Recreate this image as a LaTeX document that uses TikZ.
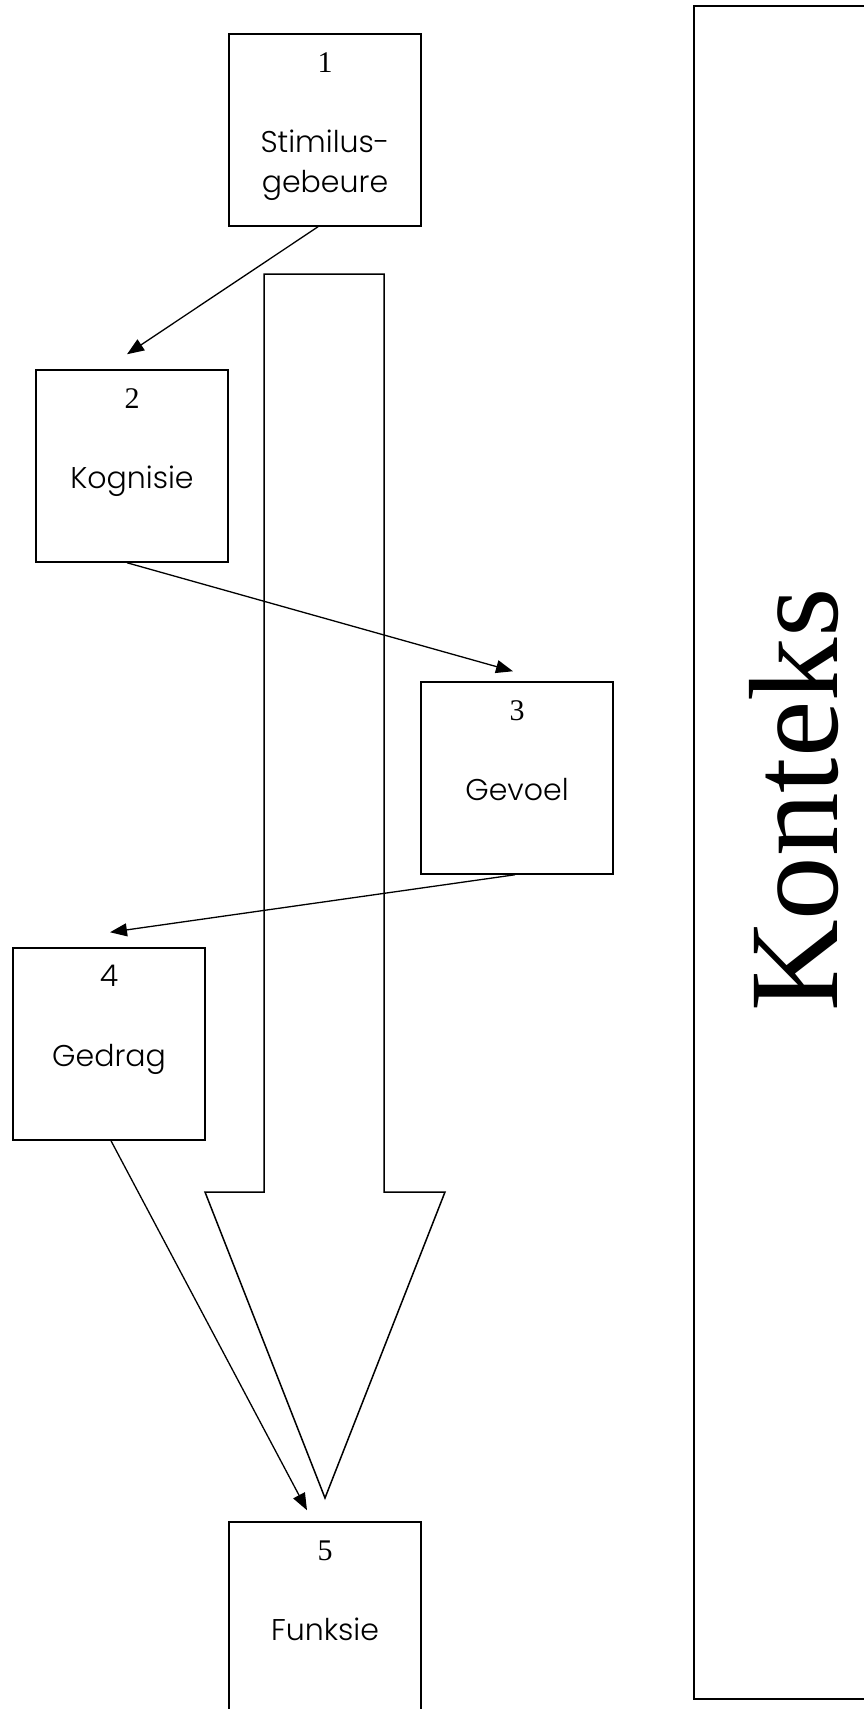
\documentclass[tikz,border=0pt]{standalone}
\usepackage{fontspec}
\setmainfont{Liberation Serif}
\newfontfamily\gothic{Poppins}[UprightFont=* Light]
\usetikzlibrary{arrows.meta}

\begin{document}
\begin{tikzpicture}[x=1pt, y=-1pt,
    caja/.style={draw, line width=1.5pt, minimum width=192pt, minimum height=192pt, inner sep=0pt},
    numero/.style={anchor=base, inner sep=0pt, font=\fontsize{30}{40}\selectfont},
    etiqueta/.style={anchor=base, inner sep=0pt, align=center, font=\gothic\fontsize{30}{40}\selectfont},
    flecha/.style={line width=1.3pt, -{Triangle[length=17pt, width=13pt]}}]
    \useasboundingbox (0,0) rectangle (863,1709);

    % Marco del contexto
    \draw[line width=2pt] (694,6) rectangle (900,1699);
    \node[rotate=90, anchor=base west, inner sep=0pt, font=\fontsize{127}{130}\selectfont] (konteks) at (837,1012) {Konteks};

    % Flecha grande hacia abajo
    \draw[line width=1.5pt] (264,274) -- (384,274) -- (384,1192) -- (445,1192) -- (325,1498)
        -- (205,1192) -- (264,1192) -- cycle;

    % Cajas
    \node[caja] (b1) at (325,130) {};
    \node[caja] (b2) at (132,466) {};
    \node[caja] (b3) at (517,778) {};
    \node[caja] (b4) at (109,1044) {};
    \node[caja] (b5) at (325,1618) {};

    % Numeros y textos
    \node[numero] (n1) at ([yshift=-39pt]b1.north) {1};
    \node[etiqueta] (t1) at ([yshift=-159pt]b1.north) {Stimilus-\\gebeure};
    \node[numero] (n2) at ([yshift=-39pt]b2.north) {2};
    \node[etiqueta] (t2) at ([yshift=-119pt]b2.north) {Kognisie};
    \node[numero] (n3) at ([yshift=-39pt]b3.north) {3};
    \node[etiqueta] (t3) at ([yshift=-119pt]b3.north) {Gevoel};
    \node[etiqueta] (n4) at ([yshift=-39pt]b4.north) {4};
    \node[etiqueta] (t4) at ([yshift=-119pt]b4.north) {Gedrag};
    \node[numero] (n5) at ([yshift=-39pt]b5.north) {5};
    \node[etiqueta] (t5) at ([yshift=-119pt]b5.north) {Funksie};

    % Flechas entre cajas
    \draw[flecha] ([xshift=-7pt]b1.south) -- ([xshift=-5pt, yshift=15pt]b2.north);
    \draw[flecha] ([xshift=-5pt]b2.south) -- ([xshift=-4pt, yshift=10pt]b3.north);
    \draw[flecha] ([xshift=-2pt]b3.south) -- ([xshift=1pt, yshift=15pt]b4.north);
    \draw[flecha] ([xshift=2pt]b4.south) -- ([xshift=-18pt, yshift=11pt]b5.north);
\end{tikzpicture}
\end{document}
